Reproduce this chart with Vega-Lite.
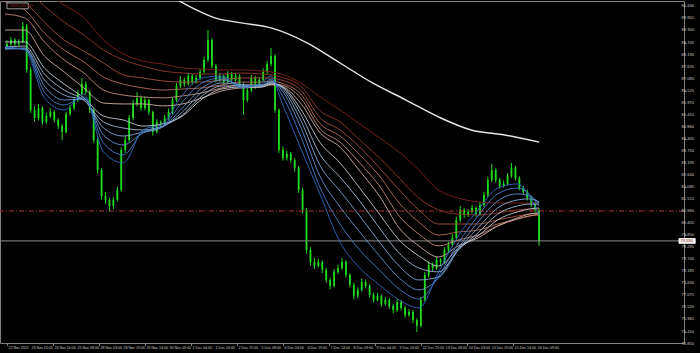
{
 "$schema": "https://vega.github.io/schema/vega-lite/v6.json",
 "autosize": "none",
 "width": 684,
 "height": 342,
 "padding": {"left": 0, "top": 1, "right": 16, "bottom": 10},
 "background": "#000000",
 "config": {
  "view": {"stroke": "#808080", "strokeWidth": 1},
  "axis": {"grid": false, "domain": false, "tickColor": "#808080", "tickWidth": 1, "labels": false}
 },
 "datasets": {
  "levels": [{"p": 79.59, "kind": "bid"}, {"p": 80.97, "kind": "level"}],
  "xlabels": [
   {"t":0,"lab":"22 Nov 2022"},{"t":5.8375,"lab":"23 Nov 15:00"},{"t":11.675,"lab":"24 Nov 10:00"},{"t":17.5125,"lab":"25 Nov 08:00"},
   {"t":23.35,"lab":"28 Nov 03:00"},{"t":29.1875,"lab":"28 Nov 19:00"},{"t":35.025,"lab":"29 Nov 14:00"},{"t":40.8625,"lab":"30 Nov 09:00"},
   {"t":46.7,"lab":"1 Dec 04:00"},{"t":52.5375,"lab":"1 Dec 20:00"},{"t":58.375,"lab":"2 Dec 15:00"},{"t":64.2125,"lab":"5 Dec 08:00"},
   {"t":70.05,"lab":"6 Dec 03:00"},{"t":75.8875,"lab":"6 Dec 19:00"},{"t":81.725,"lab":"7 Dec 14:00"},{"t":87.5625,"lab":"8 Dec 09:00"},
   {"t":93.4,"lab":"9 Dec 04:00"},{"t":99.2375,"lab":"9 Dec 20:00"},{"t":105.075,"lab":"12 Dec 15:00"},{"t":110.9125,"lab":"13 Dec 08:00"},
   {"t":116.75,"lab":"14 Dec 03:00"},{"t":122.5875,"lab":"14 Dec 19:00"},{"t":128.425,"lab":"15 Dec 14:00"},{"t":134.2625,"lab":"16 Dec 09:00"}
  ],
  "ylabels": [
   {"p":74.855},{"p":75.41},{"p":75.965},{"p":76.52},{"p":77.075},{"p":77.63},{"p":78.185},{"p":78.74},{"p":79.295},{"p":79.85},
   {"p":80.405},{"p":80.96},{"p":81.515},{"p":82.085},{"p":82.64},{"p":83.195},{"p":83.75},{"p":84.305},{"p":84.86},{"p":85.415},
   {"p":85.97},{"p":86.525},{"p":87.08},{"p":87.635},{"p":88.19},{"p":88.745},{"p":89.3},{"p":89.855},{"p":90.43}
  ],
  "candles": [
   {"i":0,"o":88.55,"h":88.85,"l":88.42,"c":88.68},{"i":1,"o":88.68,"h":89.00,"l":88.60,"c":88.86},{"i":2,"o":88.86,"h":88.95,"l":88.58,"c":88.68},{"i":3,"o":88.68,"h":88.90,"l":88.55,"c":88.77},
   {"i":4,"o":88.77,"h":89.69,"l":88.70,"c":89.51},{"i":5,"o":89.51,"h":89.60,"l":87.35,"c":87.48},{"i":6,"o":87.48,"h":87.60,"l":85.50,"c":85.63},{"i":7,"o":85.63,"h":85.80,"l":85.10,"c":85.26},
   {"i":8,"o":85.26,"h":85.90,"l":85.15,"c":85.72},{"i":9,"o":85.72,"h":85.80,"l":84.95,"c":85.08},{"i":10,"o":85.08,"h":85.50,"l":84.98,"c":85.35},{"i":11,"o":85.35,"h":85.70,"l":85.25,"c":85.54},
   {"i":12,"o":85.54,"h":85.62,"l":85.05,"c":85.17},{"i":13,"o":85.17,"h":85.25,"l":84.75,"c":84.89},{"i":14,"o":84.89,"h":84.98,"l":84.25,"c":84.62},{"i":15,"o":84.62,"h":85.55,"l":84.55,"c":85.45},
   {"i":16,"o":85.45,"h":85.85,"l":85.35,"c":85.72},{"i":17,"o":85.72,"h":86.20,"l":85.62,"c":86.09},{"i":18,"o":86.09,"h":86.55,"l":86.00,"c":86.37},{"i":19,"o":86.37,"h":87.11,"l":86.30,"c":86.83},
   {"i":20,"o":86.83,"h":86.95,"l":86.35,"c":86.46},{"i":21,"o":86.46,"h":86.55,"l":85.50,"c":85.63},{"i":22,"o":85.63,"h":85.70,"l":84.10,"c":84.25},{"i":23,"o":84.25,"h":84.35,"l":82.70,"c":82.86},
   {"i":24,"o":82.86,"h":82.95,"l":81.50,"c":81.66},{"i":25,"o":81.66,"h":81.85,"l":81.30,"c":81.48},{"i":26,"o":81.48,"h":81.60,"l":80.93,"c":81.20},{"i":27,"o":81.20,"h":81.62,"l":81.05,"c":81.48},
   {"i":28,"o":81.48,"h":82.10,"l":81.40,"c":81.94},{"i":29,"o":81.94,"h":83.90,"l":81.85,"c":83.79},{"i":30,"o":83.79,"h":84.45,"l":83.65,"c":84.25},{"i":31,"o":84.25,"h":85.40,"l":84.15,"c":85.26},
   {"i":32,"o":85.26,"h":86.10,"l":85.15,"c":85.91},{"i":33,"o":85.91,"h":86.45,"l":85.80,"c":86.19},{"i":34,"o":86.19,"h":86.30,"l":85.60,"c":85.72},{"i":35,"o":85.72,"h":86.25,"l":85.62,"c":86.09},
   {"i":36,"o":86.09,"h":86.15,"l":85.40,"c":85.54},{"i":37,"o":85.54,"h":85.60,"l":84.45,"c":84.62},{"i":38,"o":84.62,"h":85.20,"l":84.55,"c":85.08},{"i":39,"o":85.08,"h":85.15,"l":84.85,"c":84.99},
   {"i":40,"o":84.99,"h":85.40,"l":84.90,"c":85.26},{"i":41,"o":85.26,"h":85.70,"l":85.18,"c":85.54},{"i":42,"o":85.54,"h":86.20,"l":85.45,"c":86.09},{"i":43,"o":86.09,"h":86.88,"l":86.00,"c":86.74},
   {"i":44,"o":86.74,"h":87.20,"l":86.65,"c":87.02},{"i":45,"o":87.02,"h":87.12,"l":86.70,"c":86.83},{"i":46,"o":86.83,"h":87.35,"l":86.75,"c":87.20},{"i":47,"o":87.20,"h":87.30,"l":86.80,"c":86.92},
   {"i":48,"o":86.92,"h":87.25,"l":86.85,"c":87.11},{"i":49,"o":87.11,"h":87.52,"l":87.00,"c":87.39},{"i":50,"o":87.39,"h":88.10,"l":87.30,"c":87.94},{"i":51,"o":87.94,"h":89.32,"l":87.85,"c":88.86},
   {"i":52,"o":88.86,"h":88.95,"l":87.55,"c":87.66},{"i":53,"o":87.66,"h":87.75,"l":86.90,"c":87.02},{"i":54,"o":87.02,"h":87.35,"l":86.92,"c":87.20},{"i":55,"o":87.20,"h":87.28,"l":86.80,"c":86.92},
   {"i":56,"o":86.92,"h":87.42,"l":86.85,"c":87.29},{"i":57,"o":87.29,"h":87.38,"l":86.90,"c":87.02},{"i":58,"o":87.02,"h":87.35,"l":86.95,"c":87.20},{"i":59,"o":87.20,"h":87.28,"l":86.70,"c":86.83},
   {"i":60,"o":86.83,"h":86.90,"l":85.40,"c":86.09},{"i":61,"o":86.09,"h":86.70,"l":86.00,"c":86.55},{"i":62,"o":86.55,"h":87.25,"l":86.45,"c":87.11},{"i":63,"o":87.11,"h":87.20,"l":86.60,"c":86.74},
   {"i":64,"o":86.74,"h":87.15,"l":86.65,"c":87.02},{"i":65,"o":87.02,"h":87.55,"l":86.95,"c":87.39},{"i":66,"o":87.39,"h":87.90,"l":87.30,"c":87.75},{"i":67,"o":87.75,"h":88.49,"l":87.65,"c":88.12},
   {"i":68,"o":88.12,"h":88.20,"l":85.50,"c":85.63},{"i":69,"o":85.63,"h":85.70,"l":83.65,"c":83.79},{"i":70,"o":83.79,"h":83.95,"l":83.30,"c":83.42},{"i":71,"o":83.42,"h":83.75,"l":83.30,"c":83.60},
   {"i":72,"o":83.60,"h":83.70,"l":83.20,"c":83.32},{"i":73,"o":83.32,"h":83.40,"l":82.80,"c":82.96},{"i":74,"o":82.96,"h":83.05,"l":81.80,"c":81.94},{"i":75,"o":81.94,"h":82.05,"l":80.85,"c":81.02},
   {"i":76,"o":81.02,"h":81.10,"l":79.00,"c":79.17},{"i":77,"o":79.17,"h":79.30,"l":78.45,"c":78.62},{"i":78,"o":78.62,"h":78.80,"l":78.30,"c":78.43},{"i":79,"o":78.43,"h":78.75,"l":78.35,"c":78.62},
   {"i":80,"o":78.62,"h":78.70,"l":78.10,"c":78.25},{"i":81,"o":78.25,"h":78.35,"l":77.65,"c":77.79},{"i":82,"o":77.79,"h":77.90,"l":77.35,"c":77.51},{"i":83,"o":77.51,"h":78.30,"l":77.45,"c":78.16},
   {"i":84,"o":78.16,"h":78.50,"l":78.05,"c":78.34},{"i":85,"o":78.34,"h":78.80,"l":78.25,"c":78.62},{"i":86,"o":78.62,"h":78.70,"l":77.90,"c":78.02},{"i":87,"o":78.02,"h":78.10,"l":77.45,"c":77.56},
   {"i":88,"o":77.56,"h":77.65,"l":76.90,"c":77.05},{"i":89,"o":77.05,"h":77.45,"l":76.95,"c":77.33},{"i":90,"o":77.33,"h":77.85,"l":77.25,"c":77.70},{"i":91,"o":77.70,"h":77.80,"l":77.40,"c":77.51},
   {"i":92,"o":77.51,"h":77.60,"l":76.98,"c":77.10},{"i":93,"o":77.10,"h":77.20,"l":76.75,"c":76.87},{"i":94,"o":76.87,"h":77.20,"l":76.80,"c":77.05},{"i":95,"o":77.05,"h":77.12,"l":76.55,"c":76.68},
   {"i":96,"o":76.68,"h":77.00,"l":76.60,"c":76.87},{"i":97,"o":76.87,"h":76.95,"l":76.45,"c":76.59},{"i":98,"o":76.59,"h":76.70,"l":76.25,"c":76.40},{"i":99,"o":76.40,"h":76.90,"l":76.32,"c":76.77},
   {"i":100,"o":76.77,"h":76.85,"l":76.38,"c":76.50},{"i":101,"o":76.50,"h":76.60,"l":76.05,"c":76.17},{"i":102,"o":76.17,"h":76.45,"l":76.08,"c":76.31},{"i":103,"o":76.31,"h":76.40,"l":75.80,"c":75.94},
   {"i":104,"o":75.94,"h":76.02,"l":75.39,"c":75.67},{"i":105,"o":75.67,"h":77.00,"l":75.60,"c":76.87},{"i":106,"o":76.87,"h":78.15,"l":76.80,"c":78.02},{"i":107,"o":78.02,"h":78.65,"l":77.90,"c":78.48},
   {"i":108,"o":78.48,"h":78.60,"l":78.20,"c":78.34},{"i":109,"o":78.34,"h":78.85,"l":78.25,"c":78.71},{"i":110,"o":78.71,"h":78.80,"l":78.48,"c":78.62},{"i":111,"o":78.62,"h":79.30,"l":78.55,"c":79.17},
   {"i":112,"o":79.17,"h":79.55,"l":79.08,"c":79.40},{"i":113,"o":79.40,"h":79.90,"l":79.32,"c":79.73},{"i":114,"o":79.73,"h":80.70,"l":79.65,"c":80.56},{"i":115,"o":80.56,"h":81.20,"l":80.45,"c":81.02},
   {"i":116,"o":81.02,"h":81.10,"l":80.65,"c":80.79},{"i":117,"o":80.79,"h":81.05,"l":80.70,"c":80.93},{"i":118,"o":80.93,"h":81.25,"l":80.85,"c":81.11},{"i":119,"o":81.11,"h":81.18,"l":80.70,"c":80.83},
   {"i":120,"o":80.83,"h":81.38,"l":80.75,"c":81.25},{"i":121,"o":81.25,"h":81.85,"l":81.15,"c":81.71},{"i":122,"o":81.71,"h":82.55,"l":81.62,"c":82.40},{"i":123,"o":82.40,"h":83.14,"l":82.30,"c":82.86},
   {"i":124,"o":82.86,"h":82.95,"l":82.28,"c":82.40},{"i":125,"o":82.40,"h":82.50,"l":82.00,"c":82.13},{"i":126,"o":82.13,"h":82.38,"l":82.05,"c":82.22},{"i":127,"o":82.22,"h":82.72,"l":82.15,"c":82.59},
   {"i":128,"o":82.59,"h":83.19,"l":82.50,"c":82.96},{"i":129,"o":82.96,"h":83.05,"l":82.38,"c":82.49},{"i":130,"o":82.49,"h":82.58,"l":81.92,"c":82.03},{"i":131,"o":82.03,"h":82.12,"l":81.72,"c":81.85},
   {"i":132,"o":81.85,"h":81.95,"l":81.45,"c":81.57},{"i":133,"o":81.57,"h":81.65,"l":81.15,"c":81.29},{"i":134,"o":81.29,"h":81.40,"l":80.90,"c":81.02},{"i":135,"o":81.02,"h":81.10,"l":79.36,"c":79.59}
  ],
  "ribbon": [
   {"t":-0.5,"b1":88.54,"b2":88.49,"b3":88.45,"b4":88.45,"b5":88.54,"b6":88.77,"r1":92.55,"r2":91.86,"r3":91.17,"r4":90.61,"r5":90.06,"r6":89.32},
   {"t":4.5,"b1":88.40,"b2":88.45,"b3":88.45,"b4":88.49,"b5":88.58,"b6":88.77,"r1":92.00,"r2":91.26,"r3":90.61,"r4":90.25,"r5":89.88,"r6":89.32},
   {"t":9.5,"b1":86.19,"b2":86.46,"b3":86.74,"b4":87.02,"b5":87.29,"b6":87.57,"r1":91.08,"r2":90.43,"r3":89.69,"r4":89.18,"r5":88.77,"r6":88.12},
   {"t":14.5,"b1":85.63,"b2":85.86,"b3":86.09,"b4":86.32,"b5":86.55,"b6":86.83,"r1":90.48,"r2":89.69,"r3":88.86,"r4":88.40,"r5":87.94,"r6":87.39},
   {"t":19.5,"b1":86.37,"b2":86.23,"b3":86.14,"b4":86.09,"b5":86.09,"b6":86.19,"r1":89.88,"r2":89.09,"r3":88.35,"r4":87.85,"r5":87.34,"r6":86.65},
   {"t":24.5,"b1":83.69,"b2":84.11,"b3":84.48,"b4":84.80,"b5":85.08,"b6":85.35,"r1":88.86,"r2":88.40,"r3":87.80,"r4":87.15,"r5":86.55,"r6":85.95},
   {"t":29.5,"b1":83.19,"b2":83.56,"b3":84.02,"b4":84.43,"b5":84.80,"b6":85.17,"r1":88.22,"r2":87.94,"r3":87.25,"r4":86.83,"r5":86.32,"r6":85.91},
   {"t":34.5,"b1":84.71,"b2":84.62,"b3":84.57,"b4":84.62,"b5":84.71,"b6":84.89,"r1":87.89,"r2":87.66,"r3":87.11,"r4":86.65,"r5":86.23,"r6":85.91},
   {"t":39.5,"b1":84.99,"b2":84.89,"b3":84.85,"b4":84.85,"b5":84.89,"b6":84.99,"r1":87.75,"r2":87.43,"r3":86.97,"r4":86.55,"r5":86.19,"r6":85.82},
   {"t":44.5,"b1":86.32,"b2":86.00,"b3":85.72,"b4":85.54,"b5":85.40,"b6":85.35,"r1":87.57,"r2":87.34,"r3":86.92,"r4":86.60,"r5":86.28,"r6":85.91},
   {"t":49.5,"b1":87.11,"b2":86.88,"b3":86.65,"b4":86.46,"b5":86.28,"b6":86.14,"r1":87.52,"r2":87.29,"r3":86.92,"r4":86.65,"r5":86.42,"r6":86.19},
   {"t":54.5,"b1":87.20,"b2":87.11,"b3":87.02,"b4":86.88,"b5":86.74,"b6":86.60,"r1":87.48,"r2":87.29,"r3":87.02,"r4":86.79,"r5":86.65,"r6":86.51},
   {"t":59.5,"b1":86.65,"b2":86.74,"b3":86.79,"b4":86.79,"b5":86.74,"b6":86.69,"r1":87.48,"r2":87.34,"r3":87.11,"r4":86.92,"r5":86.79,"r6":86.65},
   {"t":64.5,"b1":86.88,"b2":86.79,"b3":86.74,"b4":86.74,"b5":86.74,"b6":86.69,"r1":87.43,"r2":87.29,"r3":87.11,"r4":86.92,"r5":86.79,"r6":86.69},
   {"t":67,"b1":87.20,"b2":87.06,"b3":86.97,"b4":86.92,"b5":86.88,"b6":86.83,"r1":87.39,"r2":87.25,"r3":87.11,"r4":86.97,"r5":86.83,"r6":86.79},
   {"t":69.5,"b1":86.09,"b2":86.42,"b3":86.60,"b4":86.69,"b5":86.74,"b6":86.74,"r1":87.29,"r2":87.15,"r3":87.02,"r4":86.88,"r5":86.79,"r6":86.74},
   {"t":74.5,"b1":83.88,"b2":84.43,"b3":84.85,"b4":85.17,"b5":85.45,"b6":85.68,"r1":86.88,"r2":86.74,"r3":86.55,"r4":86.37,"r5":86.19,"r6":85.95},
   {"t":79.5,"b1":81.71,"b2":82.03,"b3":82.54,"b4":83.05,"b5":83.56,"b6":84.11,"r1":86.23,"r2":85.59,"r3":85.26,"r4":84.99,"r5":84.75,"r6":84.57},
   {"t":84.5,"b1":79.54,"b2":80.37,"b3":81.16,"b4":81.89,"b5":82.54,"b6":83.19,"r1":85.63,"r2":85.08,"r3":84.71,"r4":84.43,"r5":84.15,"r6":83.92},
   {"t":89.5,"b1":78.34,"b2":79.17,"b3":80.00,"b4":80.74,"b5":81.43,"b6":82.03,"r1":84.99,"r2":84.25,"r3":83.92,"r4":83.56,"r5":83.19,"r6":82.82},
   {"t":94.5,"b1":77.56,"b2":78.25,"b3":78.90,"b4":79.54,"b5":80.19,"b6":80.83,"r1":84.34,"r2":83.42,"r3":82.96,"r4":82.59,"r5":82.13,"r6":81.66},
   {"t":99.5,"b1":76.87,"b2":77.37,"b3":77.88,"b4":78.43,"b5":79.03,"b6":79.63,"r1":83.69,"r2":82.49,"r3":81.94,"r4":81.34,"r5":80.74,"r6":80.19},
   {"t":104.5,"b1":76.50,"b2":76.91,"b3":77.33,"b4":77.79,"b5":78.34,"b6":78.90,"r1":82.86,"r2":81.57,"r3":81.02,"r4":80.46,"r5":79.91,"r6":79.36},
   {"t":109.5,"b1":78.16,"b2":77.97,"b3":77.88,"b4":77.93,"b5":78.16,"b6":78.43,"r1":81.94,"r2":81.02,"r3":80.37,"r4":79.86,"r5":79.36,"r6":78.85},
   {"t":114.5,"b1":79.82,"b2":79.50,"b3":79.26,"b4":79.17,"b5":79.17,"b6":79.26,"r1":81.57,"r2":80.83,"r3":80.37,"r4":80.00,"r5":79.63,"r6":79.36},
   {"t":119.5,"b1":81.02,"b2":80.74,"b3":80.46,"b4":80.19,"b5":79.96,"b6":79.82,"r1":81.39,"r2":80.79,"r3":80.37,"r4":80.09,"r5":79.86,"r6":79.73},
   {"t":124.5,"b1":82.03,"b2":81.76,"b3":81.43,"b4":81.11,"b5":80.83,"b6":80.56,"r1":81.34,"r2":80.88,"r3":80.56,"r4":80.37,"r5":80.28,"r6":80.28},
   {"t":129.5,"b1":82.22,"b2":82.03,"b3":81.76,"b4":81.48,"b5":81.20,"b6":80.93,"r1":81.34,"r2":81.02,"r3":80.74,"r4":80.60,"r5":80.60,"r6":80.65},
   {"t":132.5,"b1":81.66,"b2":81.76,"b3":81.66,"b4":81.53,"b5":81.29,"b6":81.06,"r1":81.34,"r2":81.06,"r3":80.83,"r4":80.74,"r5":80.74,"r6":80.83},
   {"t":135,"b1":80.79,"b2":81.20,"b3":81.34,"b4":81.39,"b5":81.29,"b6":81.11,"r1":81.34,"r2":81.06,"r3":80.88,"r4":80.79,"r5":80.83,"r6":80.88}
  ],
  "slow": [
   {"t":40.75,"w":90.98},{"t":47,"w":90.34},{"t":52.75,"w":89.88},{"t":59.5,"w":89.65},{"t":67,"w":89.42},{"t":76.25,"w":88.72},{"t":84.5,"w":87.80},
   {"t":92.75,"w":86.88},{"t":101.25,"w":86.09},{"t":109.5,"w":85.31},{"t":117.75,"w":84.71},{"t":126.25,"w":84.48},{"t":135,"w":84.15}
  ],
  "tags": [
   {"kind":"symbol","t0":0,"t1":5.4,"p0":90.30,"p1":90.57,"tx":0.7,"p":90.435,"txt":"XBRUSD,H1"},
   {"kind":"price","t0":170.5,"t1":174.6,"p0":79.48,"p1":79.70,"tx":170.85,"p":79.59,"txt":"79.590"}
  ]
 },
 "layer": [
  {
   "data": {"name": "candles"},
   "mark": {"type": "rule", "color": "#1fdc1f", "strokeWidth": 1},
   "encoding": {
    "x": {"field": "i", "type": "quantitative", "title": null,
     "scale": {"domain": [-0.5, 170.5], "nice": false, "zero": false},
     "axis": {"orient": "bottom", "values": [0, 5.8375, 11.675, 17.5125, 23.35, 29.1875, 35.025, 40.8625, 46.7, 52.5375, 58.375, 64.2125, 70.05, 75.8875, 81.725, 87.5625, 93.4, 99.2375, 105.075, 110.9125, 116.75, 122.5875, 128.425, 134.2625],
      "labels": false, "tickSize": 2.5}},
    "y": {"field": "l", "type": "quantitative", "title": null,
     "scale": {"domain": [74.88, 90.66], "nice": false, "zero": false},
     "axis": {"orient": "right", "values": [74.855, 75.41, 75.965, 76.52, 77.075, 77.63, 78.185, 78.74, 79.295, 79.85, 80.405, 80.96, 81.515, 82.085, 82.64, 83.195, 83.75, 84.305, 84.86, 85.415, 85.97, 86.525, 87.08, 87.635, 88.19, 88.745, 89.3, 89.855, 90.43],
      "labels": false, "tickSize": 2}},
    "y2": {"field": "h"}
   }
  },
  {
   "data": {"name": "candles"},
   "mark": {"type": "bar", "color": "#1fdc1f", "size": 1.8},
   "encoding": {
    "x": {"field": "i", "type": "quantitative", "title": null, "scale": {"domain": [-0.5, 170.5], "nice": false, "zero": false}},
    "y": {"field": "o", "type": "quantitative", "title": null, "scale": {"domain": [74.88, 90.66], "nice": false, "zero": false}},
    "y2": {"field": "c"}
   }
  },
  {
   "data": {"name": "levels"},
   "transform": [{"filter": "datum.kind == 'bid'"}],
   "mark": {"type": "rule", "color": "#8c8c8c", "strokeWidth": 1},
   "encoding": {
    "y": {"field": "p", "type": "quantitative", "title": null, "scale": {"domain": [74.88, 90.66], "nice": false, "zero": false}}
   }
  },
  {
   "data": {"name": "levels"},
   "transform": [{"filter": "datum.kind == 'level'"}],
   "mark": {"type": "rule", "color": "#a83232", "strokeWidth": 1, "strokeDash": [5, 2, 1, 2]},
   "encoding": {
    "y": {"field": "p", "type": "quantitative", "title": null, "scale": {"domain": [74.88, 90.66], "nice": false, "zero": false}}
   }
  },
  {
   "data": {"name": "ribbon"},
   "transform": [{"fold": ["r1", "r2", "r3", "r4", "r5", "r6", "b6", "b5", "b4", "b3", "b2", "b1"], "as": ["k", "v"]}],
   "mark": {"type": "line", "strokeWidth": 0.9, "interpolate": "monotone", "clip": true},
   "encoding": {
    "x": {"field": "t", "type": "quantitative", "title": null, "scale": {"domain": [-0.5, 170.5], "nice": false, "zero": false}},
    "y": {"field": "v", "type": "quantitative", "title": null, "scale": {"domain": [74.88, 90.66], "nice": false, "zero": false}},
    "detail": {"field": "k"},
    "color": {"field": "k", "type": "nominal", "legend": null,
     "scale": {"domain": ["r1", "r2", "r3", "r4", "r5", "r6", "b6", "b5", "b4", "b3", "b2", "b1"],
      "range": ["#7e2618", "#923a28", "#a6523e", "#b86e58", "#c68e7c", "#d2b0a4", "#c4ccd8", "#a4bcd8", "#84a8d4", "#6494d0", "#4680cc", "#2e6cc4"]}}
   }
  },
  {
   "data": {"name": "slow"},
   "mark": {"type": "line", "color": "#e6e6e6", "strokeWidth": 1.4, "interpolate": "monotone", "clip": true},
   "encoding": {
    "x": {"field": "t", "type": "quantitative", "title": null, "scale": {"domain": [-0.5, 170.5], "nice": false, "zero": false}},
    "y": {"field": "w", "type": "quantitative", "title": null, "scale": {"domain": [74.88, 90.66], "nice": false, "zero": false}}
   }
  },
  {
   "data": {"name": "xlabels"},
   "mark": {"type": "text", "align": "left", "baseline": "top", "font": "Liberation Sans", "fontSize": 3.6, "color": "#c8c8c8", "dx": 1.5, "dy": 2.5, "clip": false},
   "encoding": {
    "x": {"field": "t", "type": "quantitative", "title": null, "scale": {"domain": [-0.5, 170.5], "nice": false, "zero": false}},
    "y": {"datum": 74.88, "type": "quantitative", "title": null, "scale": {"domain": [74.88, 90.66], "nice": false, "zero": false}},
    "text": {"field": "lab"}
   }
  },
  {
   "data": {"name": "ylabels"},
   "mark": {"type": "text", "align": "left", "baseline": "middle", "font": "Liberation Sans", "fontSize": 4.1, "color": "#c8c8c8", "dx": 2.5, "clip": false},
   "encoding": {
    "x": {"datum": 170.5, "type": "quantitative", "title": null, "scale": {"domain": [-0.5, 170.5], "nice": false, "zero": false}},
    "y": {"field": "p", "type": "quantitative", "title": null, "scale": {"domain": [74.88, 90.66], "nice": false, "zero": false}},
    "text": {"field": "p", "type": "quantitative", "format": ".3f"}
   }
  },
  {
   "data": {"name": "tags"},
   "mark": {"type": "rect", "clip": false},
   "encoding": {
    "x": {"field": "t0", "type": "quantitative", "title": null, "scale": {"domain": [-0.5, 170.5], "nice": false, "zero": false}},
    "x2": {"field": "t1"},
    "y": {"field": "p0", "type": "quantitative", "title": null, "scale": {"domain": [74.88, 90.66], "nice": false, "zero": false}},
    "y2": {"field": "p1"},
    "fill": {"field": "kind", "type": "nominal", "legend": null, "scale": {"domain": ["symbol", "price"], "range": ["#000000", "#f0f0f0"]}},
    "stroke": {"field": "kind", "type": "nominal", "legend": null, "scale": {"domain": ["symbol", "price"], "range": ["#a0a0a0", "#f0f0f0"]}}
   }
  },
  {
   "data": {"name": "tags"},
   "mark": {"type": "text", "align": "left", "baseline": "middle", "font": "Liberation Sans", "fontSize": 4.1, "clip": false},
   "encoding": {
    "x": {"field": "tx", "type": "quantitative", "title": null, "scale": {"domain": [-0.5, 170.5], "nice": false, "zero": false}},
    "y": {"field": "p", "type": "quantitative", "title": null, "scale": {"domain": [74.88, 90.66], "nice": false, "zero": false}},
    "text": {"field": "txt"},
    "color": {"field": "kind", "type": "nominal", "legend": null, "scale": {"domain": ["symbol", "price"], "range": ["#ffffff", "#000000"]}}
   }
  }
 ]
}
